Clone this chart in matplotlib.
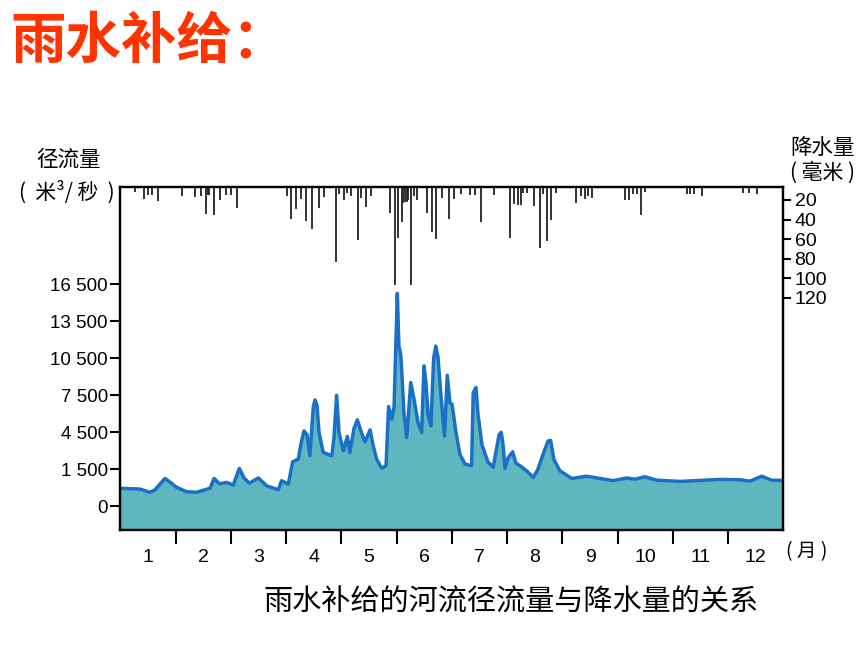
import numpy as np
import matplotlib
matplotlib.use('Agg')
from matplotlib import pyplot

cjk = ['Noto Sans CJK SC', 'DejaVu Sans']

# runoff curve: day of year, discharge (m3/s)
runoffDay = [0, 10.7, 16.2, 19.0, 21.7, 24.5, 27.8, 30.9, 36.4, 41.9, 49.3, 51.5, 54.4, 58.5,
             62.1, 65.4, 68.0, 70.9, 75.9, 80.5, 86.9, 88.7, 92.4, 94.8, 97.9, 99.4, 101.0,
             102.7, 104.3, 105.3, 106.2, 107.1, 108.2, 109.3, 111.6, 116.3, 117.5, 119.0, 120.3,
             122.7, 124.9, 126.3, 128.5, 130.4, 132.4, 134.6, 137.4, 139.0, 141.0, 143.8,
             146.2, 147.6, 149.3, 150.6, 152.4, 153.3, 154.3, 155.0, 156.1, 157.6, 159.8,
             161.6, 163.8, 165.8, 167.1, 168.2, 169.3, 170.9, 172.4, 173.6, 174.8, 176.4, 178.4,
             179.9, 181.4, 182.5, 184.7, 186.9, 189.7, 193.3, 194.2, 195.7, 196.8, 199.0,
             202.3, 205.2, 208.4, 209.6, 210.6, 211.7, 213.3, 215.9, 217.7, 219.9, 223.6, 227.2,
             229.8, 232.6, 235.4, 236.8, 238.6, 241.9, 248.4, 256.6, 264.0, 271.3, 278.7, 283.2,
             288.7, 295.2, 308.0, 319.0, 330.0, 341.0, 346.5, 353.0, 358.5, 365]
runoff = [730, 700, 570, 670, 900, 1130, 950, 770, 590, 570, 730, 1130, 915, 970,
          860, 1580, 1150, 940, 1150, 830, 670, 1040, 900, 2110, 2330, 3600, 4620,
          4300, 2600, 4800, 6600, 7130, 6700, 4500, 2870, 2600, 4000, 7500, 4500,
          3000, 4170, 2870, 4800, 5510, 4600, 3730, 4700, 3500, 2330, 1600,
          1790, 6600, 5570, 6520, 15770, 11500, 10800, 9000, 6000, 4090, 8540,
          7200, 5300, 4490, 9890, 8500, 6000, 5030, 10500, 11500, 10600, 7500, 4220,
          9130, 6870, 6800, 4500, 2700, 1930, 1790, 7700, 8140, 6000, 3500,
          2100, 1660, 4300, 4500, 3500, 1580, 2400, 2920, 2000, 1790, 1440, 1170,
          1500, 2700, 3800, 3850, 2300, 1440, 1130, 1220, 1130, 1040, 1150, 1100,
          1200, 1060, 1010, 1050, 1090, 1080, 1020, 1220, 1060, 1050]

# daily precipitation bars: day of year, mm
rainDay = [7.8, 12.8, 15.0, 17.5, 20.5, 34.0, 41.0, 44.3, 47.1, 48.0, 49.0, 51.3, 54.9, 57.9,
           61.0, 64.3, 91.5, 93.9, 96.4, 99.2, 102.0, 105.6, 109.3, 111.9, 118.6, 120.3,
           123.0, 124.9, 127.1, 130.7, 132.6, 135.1, 137.7, 148.2, 151.1, 152.9, 154.8,
           155.7, 156.6, 157.6, 158.4, 159.8, 161.6, 163.4, 168.9, 171.6, 173.5, 177.2,
           180.8, 183.8, 187.4, 192.4, 195.3, 198.3, 205.6, 214.4, 216.6, 218.8, 220.5,
           221.7, 223.9, 227.8, 230.8, 232.4, 234.6, 237.0, 239.7, 250.7, 253.3, 255.5,
           257.5, 259.4, 277.7, 280.1, 282.3, 284.5, 286.5, 288.6, 311.7, 313.5, 315.7,
           320.0, 342.5, 346.0, 350.2]
rain = [12.1, 18.6, 15.3, 15.4, 21.5, 15.9, 17.3, 16.0, 34.4, 15.1, 15.2, 35.3, 20.3, 15.2,
        15.3, 27.8, 15.7, 39.0, 29.3, 19.3, 41.4, 49.9, 27.9, 17.0, 83.4, 13.8,
        19.6, 12.8, 16.3, 60.5, 18.0, 27.3, 16.4, 33.6, 107.4, 59.1, 42.2,
        23.5, 22.5, 21.8, 20.1, 106.8, 15.8, 20.2, 32.9, 52.6, 60.2, 18.0,
        39.8, 19.5, 14.0, 15.2, 15.2, 42.5, 15.4, 58.6, 24.0, 24.8, 24.8,
        13.2, 13.3, 25.9, 69.1, 13.4, 62.4, 40.7, 12.5, 23.5, 16.1, 19.5,
        16.1, 17.9, 20.5, 19.9, 14.1, 14.1, 35.3, 12.2, 13.5, 13.5, 13.5,
        16.0, 13.0, 13.0, 14.1]

runoffTicks = [0, 1500, 4500, 7500, 10500, 13500, 16500]
runoffTickLabels = ['0', '1 500', '4 500', '7 500', '10 500', '13 500', '16 500']
rainTicks = [20, 40, 60, 80, 100, 120]
monthLabels = ['1', '2', '3', '4', '5', '6', '7', '8', '9', '10', '11', '12']


# the printed runoff axis: 0-1500 takes the same height as each 3000 step above it
def forward(v):
	v = np.asarray(v, dtype=float)
	return np.where(v <= 1500, v / 1500.0, 1 + (v - 1500) / 3000.0)


def inverse(u):
	u = np.asarray(u, dtype=float)
	return np.where(u <= 1, u * 1500.0, 1500 + (u - 1) * 3000.0)


figure = pyplot.figure(figsize=(8.6, 6.45), dpi=100)
axis1 = figure.add_axes([0.1401, 0.1783, 0.7709, 0.5318])
axis1.set_yscale('function', functions=(forward, inverse))
axis1.set_xlim(0, 365)
axis1.set_ylim(-960, 24400)

axis1.fill_between(runoffDay, runoff, -960, color='#60b6bf', linewidth=0, zorder=1)
axis1.plot(runoffDay, runoff, color='#1a6fc6', linewidth=2.5, solid_joinstyle='round', zorder=2)

monthLen = 365 / 12.0
axis1.set_xticks([monthLen * k for k in range(1, 12)])
axis1.set_xticklabels([])
axis1.set_xticks([monthLen * (k + 0.5) for k in range(12)], minor=True)
axis1.set_xticklabels(monthLabels, minor=True, fontsize=14, family='Liberation Sans')
axis1.tick_params(axis='x', which='major', direction='out', length=10, width=1.5)
axis1.tick_params(axis='x', which='minor', length=0, pad=14)

axis1.set_yticks(runoffTicks)
axis1.set_yticklabels(runoffTickLabels, fontsize=13.5, family='Liberation Sans')
axis1.yaxis.set_minor_locator(matplotlib.ticker.NullLocator())
axis1.tick_params(axis='y', direction='out', length=7, width=1.5, pad=2)

for side in ['left', 'right', 'top', 'bottom']:
	axis1.spines[side].set_linewidth(1.6)

axis2 = axis1.twinx()
axis2.set_ylim(357.8, 6.7)
axis2.vlines(rainDay, 0, rain, color='#222222', linewidth=1.3)
axis2.set_yticks(rainTicks)
axis2.set_yticklabels([str(t) for t in rainTicks], fontsize=14, family='Liberation Sans')
axis2.tick_params(axis='y', direction='out', length=6, width=1.5, pad=2)
axis2.yaxis.set_minor_locator(matplotlib.ticker.NullLocator())
for side in ['left', 'right', 'top', 'bottom']:
	axis2.spines[side].set_linewidth(1.6)

figure.text(0.080, 0.752, '径流量', family=cjk, fontsize=15.5, ha='center', va='center')
figure.text(0.078, 0.702, '(  米³/ 秒  )', family=cjk, fontsize=15, ha='center', va='center')
figure.text(0.956, 0.770, '降水量', family=cjk, fontsize=15.5, ha='center', va='center')
figure.text(0.956, 0.732, '( 毫米 )', family=cjk, fontsize=15, ha='center', va='center')
figure.text(0.914, 0.144, '( 月 )', family=cjk, fontsize=14, ha='left', va='center')

figure.text(0.012, 0.935, '雨水补给：', family=cjk, fontsize=40, fontweight='bold',
	color='#ff3300', ha='left', va='center')
figure.text(0.594, 0.065, '雨水补给的河流径流量与降水量的关系', family=cjk, fontsize=21,
	ha='center', va='center')

pyplot.savefig('out.png', dpi=100)
